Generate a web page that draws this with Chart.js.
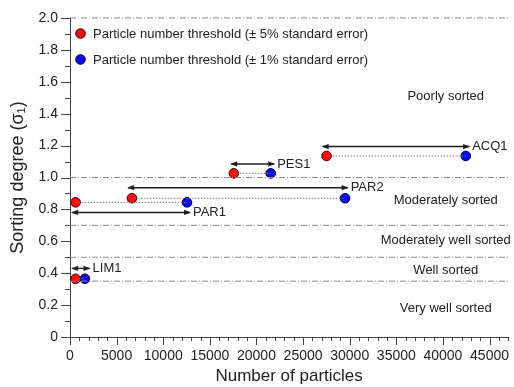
<!DOCTYPE html>
<html>
<head>
<meta charset="utf-8">
<script src="https://cdn.jsdelivr.net/npm/chart.js@4.4.1/dist/chart.umd.min.js"></script>
<style>
  html, body { margin: 0; padding: 0; background: #fff; }
</style>
</head>
<body>
<canvas id="chart" width="514" height="387"></canvas>
<script>
// samples and their sorting degree
const samples = ["LIM1", "PAR1", "PAR2", "PES1", "ACQ1"];
const sortingDegree = [0.365, 0.844, 0.87, 1.026, 1.135];
// particle number thresholds
const threshold5 = [600, 600, 6640, 17570, 27520];
const threshold1 = [1600, 12550, 29500, 21530, 42450];
// double arrows above / below each pair
const arrowY = [0.43, 0.781, 0.936, 1.085, 1.194];
const arrowFrom = [230, 230, 6240, 17290, 27100];
const arrowTo = [2100, 12870, 29780, 21900, 42810];
// sorting classes
const classLimits = [2.0, 1.0, 0.7, 0.5, 0.35];
const classNames = ["Poorly sorted", "Moderately sorted", "Moderately well sorted", "Well sorted", "Very well sorted"];
const classLabelY = [1.508, 0.858, 0.607, 0.419, 0.18];
const classLabelX = 40300;
// axes
const xTicks = [0, 5000, 10000, 15000, 20000, 25000, 30000, 35000, 40000, 45000];
const yTicks = [0, 0.2, 0.4, 0.6, 0.8, 1.0, 1.2, 1.4, 1.6, 1.8, 2.0];
const xMax = 47000;
const legendLabels = [
  "Particle number threshold (\u00b1 5% standard error)",
  "Particle number threshold (\u00b1 1% standard error)"
];

const FONT = "'Liberation Sans', Arial, sans-serif";
const TEXT = "#222";
const RED = "#ff0a0a";
const BLUE = "#0a0af0";

const datasets = [];

classLimits.forEach((v) => {
  datasets.push({
    type: "line",
    data: [{ x: 0, y: v }, { x: xMax, y: v }],
    borderColor: "#8a8a8a",
    borderWidth: 1,
    borderDash: [6, 2, 1, 2],
    pointRadius: 0,
    clip: false,
    kind: "limit",
  });
});

samples.forEach((s, i) => {
  datasets.push({
    type: "line",
    data: [{ x: threshold5[i], y: sortingDegree[i] }, { x: threshold1[i], y: sortingDegree[i] }],
    borderColor: "#7c7c7c",
    borderWidth: 1,
    borderDash: [1.5, 1.5],
    pointRadius: 0,
    kind: "link",
  });
});

samples.forEach((s, i) => {
  datasets.push({
    type: "line",
    data: [{ x: arrowFrom[i], y: arrowY[i] }, { x: arrowTo[i], y: arrowY[i] }],
    borderColor: "#1e1e1e",
    borderWidth: 1.4,
    pointRadius: 0,
    clip: false,
    kind: "arrow",
    name: s,
  });
});

datasets.push({
  type: "scatter",
  data: samples.map((s, i) => ({ x: threshold5[i], y: sortingDegree[i] })),
  backgroundColor: RED,
  borderColor: "#3a0000",
  borderWidth: 1,
  pointRadius: 4.8,
  clip: false,
  kind: "p5",
});
datasets.push({
  type: "scatter",
  data: samples.map((s, i) => ({ x: threshold1[i], y: sortingDegree[i] })),
  backgroundColor: BLUE,
  borderColor: "#00003a",
  borderWidth: 1,
  pointRadius: 4.8,
  clip: false,
  kind: "p1",
});

// arrowheads, labels, legend, tick marks and the y title
const decorations = {
  id: "decorations",
  afterDatasetsDraw(chart) {
    const { ctx, chartArea, scales } = chart;
    const x = scales.x, y = scales.y;
    ctx.save();

    // arrowheads + sample names
    chart.data.datasets.forEach((ds, di) => {
      if (ds.kind !== "arrow") return;
      const pts = chart.getDatasetMeta(di).data;
      const a = pts[0], b = pts[1];
      ctx.fillStyle = "#1e1e1e";
      [[a, -1], [b, 1]].forEach(([p, dir]) => {
        ctx.beginPath();
        ctx.moveTo(p.x + dir * 1, p.y);
        ctx.lineTo(p.x - dir * 6, p.y - 2.6);
        ctx.lineTo(p.x - dir * 6, p.y + 2.6);
        ctx.closePath();
        ctx.fill();
      });
      ctx.fillStyle = TEXT;
      ctx.font = "13px " + FONT;
      ctx.textAlign = "left";
      ctx.textBaseline = "middle";
      ctx.fillText(ds.name, b.x + 3, b.y);
    });

    // class names
    ctx.fillStyle = TEXT;
    ctx.font = "13px " + FONT;
    ctx.textAlign = "center";
    ctx.textBaseline = "middle";
    classNames.forEach((n, i) => {
      ctx.fillText(n, x.getPixelForValue(classLabelX), y.getPixelForValue(classLabelY[i]));
    });

    // legend
    const colors = [RED, BLUE];
    const borders = ["#3a0000", "#00003a"];
    legendLabels.forEach((t, i) => {
      const ly = chartArea.top + 15.5 + i * 26;
      const lx = chartArea.left + 10.5;
      ctx.beginPath();
      ctx.arc(lx, ly, 4.8, 0, Math.PI * 2);
      ctx.fillStyle = colors[i];
      ctx.fill();
      ctx.lineWidth = 1;
      ctx.strokeStyle = borders[i];
      ctx.stroke();
      ctx.fillStyle = TEXT;
      ctx.textAlign = "left";
      ctx.fillText(t, lx + 12.5, ly + 0.5);
    });

    ctx.restore();
  },
  afterDraw(chart) {
    const { ctx, chartArea, scales } = chart;
    const x = scales.x, y = scales.y;
    ctx.save();
    ctx.strokeStyle = "#444";
    ctx.lineWidth = 1;

    // x tick marks: major every 5000, minor every 1000
    for (let v = 0; v <= xMax; v += 1000) {
      const px = Math.round(x.getPixelForValue(v)) + 0.5;
      const len = v % 5000 === 0 ? 8 : 4;
      ctx.beginPath();
      ctx.moveTo(px, chartArea.bottom);
      ctx.lineTo(px, chartArea.bottom + len);
      ctx.stroke();
    }
    // y tick marks: major every 0.2, minor every 0.1
    for (let k = 0; k <= 20; k++) {
      const py = Math.round(y.getPixelForValue(k / 10)) + 0.5;
      const len = k % 2 === 0 ? 9 : 5;
      ctx.beginPath();
      ctx.moveTo(chartArea.left, py);
      ctx.lineTo(chartArea.left - len, py);
      ctx.stroke();
    }

    // y axis title with subscript
    ctx.fillStyle = TEXT;
    ctx.translate(18, (chartArea.top + chartArea.bottom) / 2);
    ctx.rotate(-Math.PI / 2);
    ctx.textBaseline = "middle";
    ctx.font = "18px " + FONT;
    const main = "Sorting degree (\u03c3";
    const wMain = ctx.measureText(main).width;
    ctx.font = "11px " + FONT;
    const wSub = ctx.measureText("1").width;
    ctx.font = "18px " + FONT;
    const wEnd = ctx.measureText(")").width;
    let sx = -(wMain + wSub + wEnd) / 2;
    ctx.textAlign = "left";
    ctx.fillText(main, sx, 0);
    sx += wMain;
    ctx.font = "11px " + FONT;
    ctx.fillText("1", sx, 4);
    sx += wSub;
    ctx.font = "18px " + FONT;
    ctx.fillText(")", sx, 0);
    ctx.restore();
  },
};

new Chart(document.getElementById("chart"), {
  data: { datasets },
  options: {
    responsive: false,
    animation: false,
    layout: { padding: { top: 18, right: 2, left: 0, bottom: 0 } },
    plugins: { legend: { display: false }, tooltip: { enabled: false } },
    scales: {
      x: {
        type: "linear",
        min: 0,
        max: xMax,
        afterBuildTicks: (s) => { s.ticks = xTicks.map((v) => ({ value: v })); },
        afterFit: (s) => { s.height = 50; },
        grid: { drawOnChartArea: false, drawTicks: true, tickLength: 8, color: "rgba(0,0,0,0)" },
        border: { display: true, color: "#444", width: 1 },
        ticks: {
          padding: 3,
          color: TEXT,
          font: { family: FONT, size: 14 },
          maxRotation: 0,
          autoSkip: false,
          callback: (v) => String(v),
        },
        title: {
          display: true,
          text: "Number of particles",
          color: TEXT,
          font: { family: FONT, size: 17 },
          padding: { top: 2, bottom: 0 },
        },
      },
      y: {
        type: "linear",
        min: 0,
        max: 2,
        afterBuildTicks: (s) => { s.ticks = yTicks.map((v) => ({ value: v })); },
        afterFit: (s) => { s.width = 70; },
        grid: { drawOnChartArea: false, drawTicks: true, tickLength: 9, color: "rgba(0,0,0,0)" },
        border: { display: true, color: "#444", width: 1 },
        ticks: {
          padding: 3,
          color: TEXT,
          font: { family: FONT, size: 14 },
          callback: (v) => (v === 0 ? "0" : Number(v).toFixed(1)),
        },
      },
    },
  },
  plugins: [decorations],
});
</script>
</body>
</html>
